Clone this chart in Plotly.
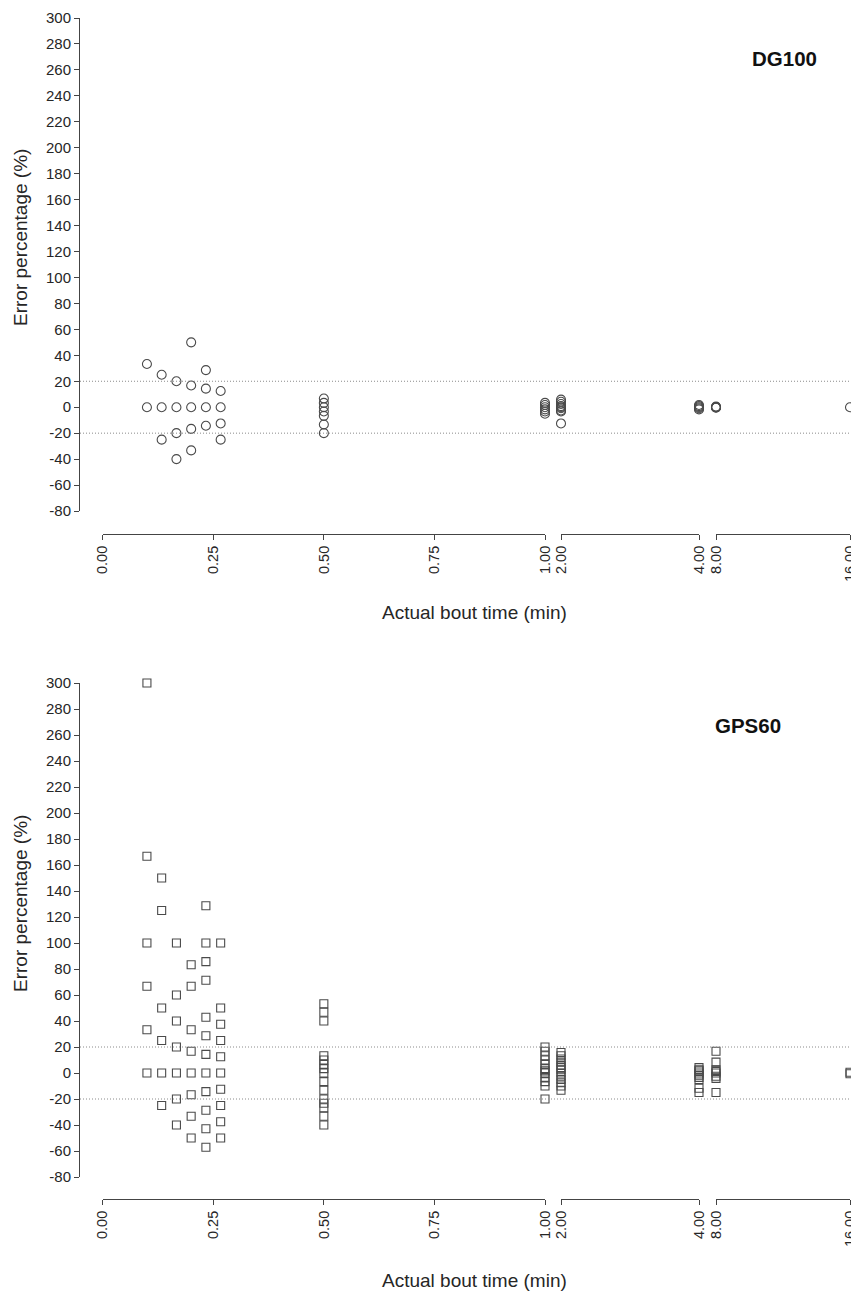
import plotly.graph_objects as go

# page is rendered with an 8px body margin; the figure fills the rest
OFF = 8
W, H = 859 - OFF, 1294 - OFF

# ---------------- data ----------------
# actual bout times (min)
bout_short = [0.1, 0.1333, 0.1667, 0.2, 0.2333, 0.2667]
bout_mid = [0.5, 1.0]
bout_long2 = [2.0, 4.0]
bout_long3 = [8.0, 16.0]

# DG100 error percentages per bout time
dg_0100 = [33.3, 0]
dg_0133 = [25, 0, -25]
dg_0167 = [20, 0, -20, -40]
dg_0200 = [50, 16.7, 0, -16.7, -33.3]
dg_0233 = [28.6, 14.3, 0, -14.3]
dg_0267 = [12.5, 0, -12.5, -25]
dg_0500 = [6.67, 3.33, 0, -3.33, -6.67, -13.3, -20]
dg_1000 = [3.33, 1.67, 0, -1.67, -3.33, -5]
dg_2000 = [5.83, 4.17, 2.5, 0.83, 0, -0.83, -2.5, -3.33, -12.5]
dg_4000 = [1.67, 0.83, 0, -0.83, -1.67]
dg_8000 = [0.42, 0.21, 0, -0.21, -0.42]
dg_16000 = [0]

# GPS60 error percentages per bout time
gps_0100 = [300, 166.7, 100, 66.7, 33.3, 0]
gps_0133 = [150, 125, 50, 25, 0, -25]
gps_0167 = [100, 60, 40, 20, 0, -20, -40]
gps_0200 = [83.3, 66.7, 33.3, 16.7, 0, -16.7, -33.3, -50]
gps_0233 = [128.6, 100, 85.7, 71.4, 42.9, 28.6, 14.3, 0, -14.3, -28.6, -42.9, -57.1]
gps_0267 = [100, 50, 37.5, 25, 12.5, 0, -12.5, -25, -37.5, -50]
gps_0500 = [53.3, 46.7, 40, 13.3, 10, 6.67, 3.33, 0, -6.67, -13.3, -20, -23.3, -26.7, -33.3, -40]
gps_1000 = [20, 16.7, 13.3, 10, 6.67, 3.33, 1.67, 0, -3.33, -6.67, -10, -20]
gps_2000 = [15.8, 13.3, 10.8, 8.33, 5.83, 4.17, 2.5, 0, -2.5, -5, -7.5, -10, -13.3]
gps_4000 = [4.17, 2.5, 1.67, 0, -1.67, -3.33, -5, -11.7, -15]
gps_8000 = [16.7, 8.33, 2.5, 1.25, 0, -2.5, -4.17, -15]
gps_16000 = [0.52, -0.52]

seg1_ticks = [0, 0.25, 0.5, 0.75, 1.0]
seg1_text = ["0.00", "0.25", "0.50", "0.75", "1.00"]
seg2_ticks = [2, 4]
seg2_text = ["2.00", "4.00"]
seg3_ticks = [8, 16]
seg3_text = ["8.00", "16.00"]
y_ticks = list(range(-80, 301, 20))
limits = [20, -20]

# ---------------- helpers ----------------
def px_x(p):
    return (p - OFF) / W

def px_y(p):
    return 1 - (p - OFF) / H

def expand(xs, groups):
    X, Y = [], []
    for x, g in zip(xs, groups):
        X += [x] * len(g)
        Y += g
    return X, Y

FONT = "Liberation Sans, Arial, sans-serif"
TXT = "#262626"
AX = "#444444"
MK = "#4a4a4a"

fig = go.Figure()

panels = [
    dict(name="DG100", sym="circle-open", size=9,
         groups=[[dg_0100, dg_0133, dg_0167, dg_0200, dg_0233, dg_0267, dg_0500, dg_1000],
                 [dg_2000, dg_4000], [dg_8000, dg_16000]],
         ytop=18, ybot=511, xline=534, axes=("x", "x2", "x3"), yax="y",
         label_xy=(784, 58), title_y=612, ytitle_c=238),
    dict(name="GPS60", sym="square-open", size=8,
         groups=[[gps_0100, gps_0133, gps_0167, gps_0200, gps_0233, gps_0267, gps_0500, gps_1000],
                 [gps_2000, gps_4000], [gps_8000, gps_16000]],
         ytop=683, ybot=1177, xline=1199, axes=("x4", "x5", "x6"), yax="y2",
         label_xy=(748, 725), title_y=1280, ytitle_c=904),
]

seg_x = [bout_short + bout_mid, bout_long2, bout_long3]
seg_dom = [(102.7, 545), (561, 699), (716, 850)]
seg_range = [[0, 1.0], [2.0, 4.0], [8.0, 16.0]]
seg_tv = [seg1_ticks, seg2_ticks, seg3_ticks]
seg_tt = [seg1_text, seg2_text, seg3_text]

layout = dict(
    width=W, height=H,
    margin=dict(l=0, r=0, t=0, b=0, pad=0, autoexpand=False),
    paper_bgcolor="white", plot_bgcolor="white",
    showlegend=False,
    font=dict(family=FONT, color=TXT, size=14),
)

annotations = []
shapes = []

for p in panels:
    ykey = "yaxis" if p["yax"] == "y" else "yaxis2"
    layout[ykey] = dict(
        domain=[px_y(p["ybot"]), px_y(p["ytop"])],
        range=[-80, 300], automargin=False,
        anchor="free", position=px_x(79),
        showline=True, linecolor=AX, linewidth=1,
        ticks="outside", ticklen=5, tickcolor=AX,
        tickvals=y_ticks, ticktext=[str(v) for v in y_ticks],
        tickfont=dict(size=15, family=FONT, color=TXT),
        showgrid=False, zeroline=False,
    )
    for i, ax in enumerate(p["axes"]):
        key = "xaxis" if ax == "x" else "xaxis" + ax[1:]
        layout[key] = dict(
            domain=[px_x(seg_dom[i][0]), px_x(seg_dom[i][1])],
            type="linear", range=seg_range[i], automargin=False,
            anchor="free", position=px_y(p["xline"]),
            showline=True, linecolor=AX, linewidth=1,
            ticks="outside", ticklen=5, tickcolor=AX,
            tickvals=seg_tv[i], ticktext=seg_tt[i], tickangle=-90,
            ticklabeloverflow="allow",
            tickfont=dict(size=14.5, family=FONT, color=TXT),
            showgrid=False, zeroline=False,
        )
        X, Y = expand(seg_x[i], p["groups"][i])
        fig.add_trace(go.Scatter(
            x=X, y=Y, xaxis=ax, yaxis=p["yax"], mode="markers",
            cliponaxis=False,
            marker=dict(symbol=p["sym"], size=p["size"], color=MK,
                        line=dict(width=1.1, color=MK)),
            hoverinfo="skip",
        ))
    for lv in limits:
        shapes.append(dict(type="line", xref="paper", yref=p["yax"],
                           x0=px_x(80), x1=1, y0=lv, y1=lv,
                           line=dict(color="#8a8a8a", width=1, dash="1px,2px")))
    annotations.append(dict(text="<b>%s</b>" % p["name"], xref="paper", yref="paper",
                            x=px_x(p["label_xy"][0]), y=px_y(p["label_xy"][1]),
                            showarrow=False, font=dict(size=20.5, family=FONT, color="#111111"),
                            xanchor="center", yanchor="middle"))
    annotations.append(dict(text="Actual bout time (min)", xref="paper", yref="paper",
                            x=px_x(474), y=px_y(p["title_y"]), showarrow=False,
                            font=dict(size=19, family=FONT, color=TXT),
                            xanchor="center", yanchor="middle"))
    annotations.append(dict(text="Error percentage (%)", xref="paper", yref="paper",
                            x=px_x(20), y=px_y(p["ytitle_c"]),
                            textangle=-90, showarrow=False,
                            font=dict(size=19, family=FONT, color=TXT),
                            xanchor="center", yanchor="middle"))

layout["annotations"] = annotations
layout["shapes"] = shapes
fig.update_layout(**layout)
fig.write_html("out.html")
